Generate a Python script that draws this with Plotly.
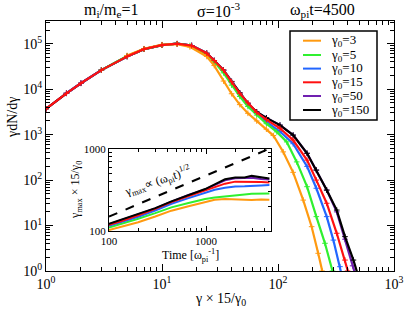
import plotly.graph_objects as go

# ---------------- main spectrum data ----------------
labels = ["γ<sub>0</sub>=3", "γ<sub>0</sub>=5", "γ<sub>0</sub>=10", "γ<sub>0</sub>=15", "γ<sub>0</sub>=50", "γ<sub>0</sub>=150"]
colors = ["#FF9A10", "#30F030", "#2266FF", "#FF1010", "#7020B0", "#000000"]

x_g3 = [5, 7, 10, 13.5, 17.4, 24.3, 28.2, 33.9, 39.8, 46.8, 55, 65.5, 79.4, 91.2, 111, 135, 165, 195, 222, 240, 251]
y_g3 = [55000, 77600, 95500, 97700, 85100, 52500, 33100, 15100, 7940, 4570, 2950, 2000, 1320, 955, 417, 148, 36.3, 9.44, 2.45, 1.0, 0.63]

x_g5 = [3, 5, 7, 10, 13.5, 17.4, 24.3, 28.2, 33.9, 39.8, 46.8, 55, 65.5, 79.4, 97.7, 119, 145, 178, 214, 254, 295, 309]
y_g5 = [26300, 53700, 75900, 93300, 100000, 91200, 58900, 39800, 22900, 12300, 6920, 4170, 2690, 1740, 1150, 692, 251, 71.6, 15.7, 4.07, 1.0, 0.63]

x_g10 = [1.5, 2, 3, 5, 7, 10, 13.5, 18, 24.3, 28.2, 33.9, 39.8, 46.8, 55, 65.5, 79.4, 104, 135, 178, 214, 263, 300, 342, 355]
y_g10 = [8130, 13500, 26300, 52500, 75900, 93300, 100000, 91200, 61700, 42700, 25700, 14100, 7940, 4900, 2950, 1910, 1170, 631, 200, 66.1, 15.7, 4.79, 1.245, 0.79]

x_g15 = [1, 1.5, 2, 3, 5, 7, 10, 13.5, 18, 24.3, 28.2, 33.9, 39.8, 46.8, 55, 65.5, 79.4, 104, 135, 178, 214, 263, 321, 378, 398, 417]
y_g15 = [3700, 8130, 13500, 26300, 52500, 75900, 93300, 100000, 91200, 61700, 42700, 26300, 14500, 8130, 5000, 3090, 2140, 1380, 759, 275, 100, 30.9, 6.76, 1.74, 1.0, 0.7]

x_g50 = [1, 1.5, 2, 3, 5, 7, 10, 13.5, 18, 24.3, 28.2, 33.9, 39.8, 46.8, 55, 65.5, 79.4, 104, 135, 178, 214, 263, 321, 378, 440, 470]
y_g50 = [3700, 8130, 13500, 26300, 52500, 75900, 93300, 100000, 91200, 61700, 42700, 26300, 14800, 8300, 4790, 3160, 2340, 1620, 977, 389, 166, 60.3, 20.0, 5.0, 1.3, 0.75]

x_g150 = [1, 1.5, 2, 3, 5, 7, 10, 13.5, 18, 24.3, 28.2, 33.9, 39.8, 46.8, 55, 65.5, 79.4, 104, 135, 178, 214, 263, 321, 378, 447, 490]
y_g150 = [3700, 8130, 13500, 26300, 52500, 75900, 93300, 100000, 91200, 61700, 42700, 26300, 14800, 8300, 4790, 3160, 2340, 1620, 977, 389, 166, 60.3, 21.9, 5.7, 1.74, 0.8]

# ---------------- inset data ----------------
t_inset = [100, 135, 200, 300, 440, 660, 980, 1230, 1570, 2000, 2500, 2950, 3700, 4500]
gmax_g3 = [103, 113, 128, 150, 177, 200, 224, 240, 246, 243, 240, 238, 242, 240]
gmax_g5 = [110, 122, 141, 165, 194, 220, 246, 256, 265, 275, 278, 284, 282, 286]
gmax_g10 = [116, 129, 149, 178, 215, 252, 292, 318, 337, 350, 352, 358, 360, 363]
gmax_g15 = [119, 132, 155, 186, 226, 268, 315, 345, 378, 400, 400, 402, 395, 390]
gmax_g50 = [121, 136, 160, 188, 228, 275, 322, 365, 415, 440, 438, 445, 430, 425]
gmax_g150 = [122, 137, 161, 190, 230, 277, 325, 370, 427, 448, 450, 470, 450, 437]
t_dash = [100, 4700]
g_dash = [150, 1030]

main_x = [x_g3, x_g5, x_g10, x_g15, x_g50, x_g150]
main_y = [y_g3, y_g5, y_g10, y_g15, y_g50, y_g150]
inset_y = [gmax_g3, gmax_g5, gmax_g10, gmax_g15, gmax_g50, gmax_g150]

FONT = "Liberation Serif"
fig = go.Figure()

order = [4, 5, 2, 1, 0, 3]
for i in order:
    fig.add_trace(go.Scatter(
        x=main_x[i], y=main_y[i], mode="lines+markers",
        line=dict(color=colors[i], width=2.2),
        marker=dict(symbol="cross-thin", size=4, line=dict(color=colors[i], width=1)),
        showlegend=False, xaxis="x", yaxis="y"))

for i in [0, 1, 2, 4, 3, 5]:
    fig.add_trace(go.Scatter(
        x=t_inset, y=inset_y[i], mode="lines",
        line=dict(color=colors[i], width=2),
        showlegend=False, xaxis="x2", yaxis="y2"))
fig.add_trace(go.Scatter(x=t_dash, y=g_dash, mode="lines",
                         line=dict(color="black", width=2, dash="dash"),
                         showlegend=False, xaxis="x2", yaxis="y2"))


def minor_vals(lo, hi):
    vals = []
    for e in range(lo, hi):
        for k in range(2, 10):
            vals.append(k * 10 ** e)
    return vals


axis_common = dict(type="log", showgrid=False, zeroline=False, showline=True,
                   linecolor="black", linewidth=1, mirror="ticks", ticks="inside",
                   tickcolor="black", ticklen=7, tickwidth=1,
                   tickfont=dict(family=FONT, size=14, color="black"))


def minor(lo, hi, ln):
    return dict(tickmode="array", tickvals=minor_vals(lo, hi), ticks="inside",
                ticklen=ln, tickcolor="black", tickwidth=1, showgrid=False)


sup = lambda n: "10<sup>%d</sup>" % n

fig.update_layout(
    width=415, height=312,
    margin=dict(l=46, r=21, t=21, b=41),
    paper_bgcolor="white", plot_bgcolor="white",
    font=dict(family=FONT, color="black"),
    xaxis=dict(axis_common, range=[0, 3], domain=[0, 1],
               tickvals=[1, 10, 100, 1000], ticktext=[sup(k) for k in range(4)],
               minor=minor(0, 3, 4)),
    yaxis=dict(axis_common, range=[0, 5.5], domain=[0, 1],
               tickvals=[1, 10, 100, 1e3, 1e4, 1e5], ticktext=[sup(k) for k in range(6)],
               minor=minor(0, 6, 4)),
    xaxis2=dict(axis_common, range=[2, 3.67], domain=[0.181, 0.6466], anchor="y2",
                tickvals=[100, 1000], ticktext=["100", "1000"], ticklen=5,
                tickfont=dict(family=FONT, size=11, color="black"),
                minor=minor(2, 4, 3)),
    yaxis2=dict(axis_common, range=[2, 3], domain=[0.16, 0.488], anchor="x2",
                tickvals=[100, 1000], ticktext=["100", "1000"], ticklen=5,
                tickfont=dict(family=FONT, size=11, color="black"),
                minor=minor(2, 3, 3)),
)

ann = []


def add_text(text, x, y, size, angle=0, xanchor="center"):
    ann.append(dict(text=text, x=x, y=y, xref="paper", yref="paper", showarrow=False,
                    xanchor=xanchor, yanchor="middle", textangle=angle,
                    font=dict(family=FONT, size=size, color="black")))


px = lambda v: (v - 46) / 348
py = lambda v: 1 - (v - 21) / 250

add_text("m<sub>i</sub>/m<sub>e</sub>=1", px(111), py(11), 16)
add_text("σ=10<sup>-3</sup>", px(218), py(10), 16)
add_text("ω<sub>pi</sub>t=4500", px(322), py(11), 16)
add_text("γ × 15/γ<sub>0</sub>", px(220), py(299), 14)
add_text("γdN/dγ", px(12), py(118), 14, -90)
add_text("γ<sub>max</sub> × 15/γ<sub>0</sub>", px(76), py(190), 12, -90)
add_text("Time [ω<sub>pi</sub><sup>-1</sup>]", px(190), py(255), 12)
add_text("γ<sub>max</sub>∝ (ω<sub>pi</sub>t)<sup>1/2</sup>", px(157), py(181), 12, -19)

# manual legend
shapes = []
shapes.append(dict(type="rect", xref="paper", yref="paper", x0=px(290), x1=px(377),
                   y0=py(120), y1=py(31), line=dict(color="black", width=1.5),
                   fillcolor="white", layer="above"))
ypos = [40.7, 55, 68.6, 82.3, 96, 110]
for i in range(6):
    shapes.append(dict(type="line", xref="paper", yref="paper", x0=px(303), x1=px(321),
                       y0=py(ypos[i]), y1=py(ypos[i]), line=dict(color=colors[i], width=2),
                       layer="above"))
    add_text(labels[i], px(329), py(ypos[i]), 13, 0, "left")

fig.update_layout(annotations=ann, shapes=shapes)
fig.write_html("out.html", config={"displayModeBar": False},
               post_script="document.body.style.margin='0px';")
